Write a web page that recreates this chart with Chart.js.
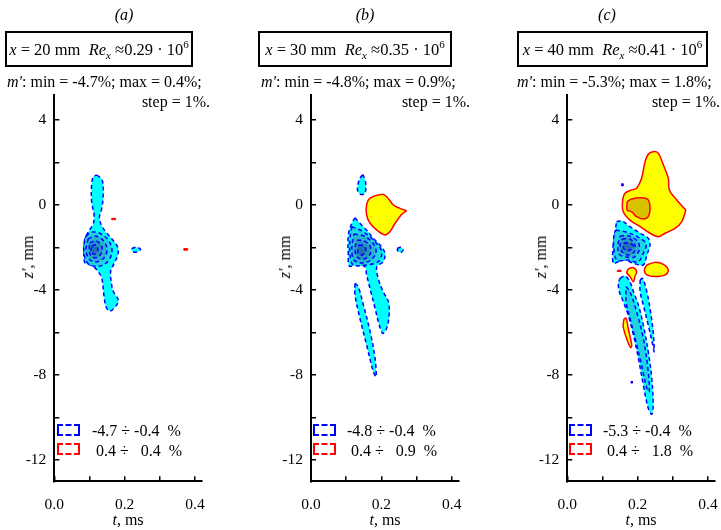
<!DOCTYPE html>
<html>
<head>
<meta charset="utf-8">
<script src="https://cdn.jsdelivr.net/npm/chart.js@4.4.1/dist/chart.umd.min.js"></script>
<style>
  body { margin: 0; width: 721px; height: 530px; background: #fff; position: relative; overflow: hidden;
         font-family: "Liberation Serif", "Times New Roman", serif; color: #000; }
  canvas { position: absolute; top: 0; }
  .txt { position: absolute; white-space: pre; line-height: 1; font-size: 16px; }
  .c { transform: translate(-50%, -50%); }
  .box { position: absolute; border: 2px solid #000; box-sizing: border-box; height: 36px; top: 31px;
         text-align: center; font-size: 16.5px; white-space: pre; line-height: 34px; }
  sub { font-size: 11px; vertical-align: -4px; line-height: 0; }
  sup { font-size: 11px; vertical-align: 7px; line-height: 0; }
  .lg { position: absolute; width: 23px; height: 12px; box-sizing: border-box; border: 2px dashed; }
  .rot { transform: translate(-50%, -50%) rotate(-90deg); }
</style>
</head>
<body>
<canvas id="pa" width="240" height="530" style="left:0px"></canvas>
<canvas id="pb" width="240" height="530" style="left:250px"></canvas>
<canvas id="pc" width="260" height="530" style="left:490px"></canvas>

<div class="txt c" style="left:124px;top:15px"><i>(a)</i></div>
<div class="txt c" style="left:365px;top:15px"><i>(b)</i></div>
<div class="txt c" style="left:607px;top:15px"><i>(c)</i></div>

<div class="box" style="left:5px;width:188px"><span><i>x</i> = 20 mm  <i>Re<sub>x</sub></i> ≈0.29 · 10<sup>6</sup></span></div>
<div class="box" style="left:258px;width:194px"><span><i>x</i> = 30 mm  <i>Re<sub>x</sub></i> ≈0.35 · 10<sup>6</sup></span></div>
<div class="box" style="left:517px;width:191px"><span><i>x</i> = 40 mm  <i>Re<sub>x</sub></i> ≈0.41 · 10<sup>6</sup></span></div>

<div class="txt" style="left:7px;top:74px"><i>m'</i>: min = -4.7%; max = 0.4%;</div>
<div class="txt" style="left:261px;top:74px"><i>m'</i>: min = -4.8%; max = 0.9%;</div>
<div class="txt" style="left:517px;top:74px"><i>m'</i>: min = -5.3%; max = 1.8%;</div>

<div class="txt" style="right:511px;top:94px">step = 1%.</div>
<div class="txt" style="right:251px;top:94px">step = 1%.</div>
<div class="txt" style="right:1px;top:94px">step = 1%.</div>

<div class="lg" style="left:57px;top:424px;border-color:#00f"></div>
<div class="lg" style="left:57px;top:443px;border-color:#f00"></div>
<div class="txt" style="left:92px;top:423px">-4.7 ÷ -0.4  %</div>
<div class="txt" style="left:96px;top:443px">0.4 ÷   0.4  %</div>

<div class="lg" style="left:313px;top:424px;border-color:#00f"></div>
<div class="lg" style="left:313px;top:443px;border-color:#f00"></div>
<div class="txt" style="left:347px;top:423px">-4.8 ÷ -0.4  %</div>
<div class="txt" style="left:351px;top:443px">0.4 ÷   0.9  %</div>

<div class="lg" style="left:569px;top:424px;border-color:#00f"></div>
<div class="lg" style="left:569px;top:443px;border-color:#f00"></div>
<div class="txt" style="left:603px;top:423px">-5.3 ÷ -0.4  %</div>
<div class="txt" style="left:607px;top:443px">0.4 ÷   1.8  %</div>

<div class="txt rot" style="left:28px;top:257px"><i>z′</i>, mm</div>
<div class="txt rot" style="left:285px;top:257px"><i>z′</i>, mm</div>
<div class="txt rot" style="left:541px;top:257px"><i>z′</i>, mm</div>

<div class="txt c" style="left:128px;top:520px"><i>t</i>, ms</div>
<div class="txt c" style="left:385px;top:520px"><i>t</i>, ms</div>
<div class="txt c" style="left:641px;top:520px"><i>t</i>, ms</div>

<script>
// axis ticks
const tTicks = [0, 0.1, 0.2, 0.3, 0.4];
const zTicks = [-12, -10, -8, -6, -4, -2, 0, 2, 4];

// contour regions, [t (ms), z' (mm)]
// (a) x = 20 mm
const aOuter = [[0.121,1.41],[0.136,1.18],[0.139,0.47],[0.135,-0.16],[0.128,-0.63],[0.139,-1.10],[0.158,-1.49],[0.177,-1.88],[0.182,-2.20],[0.177,-2.51],[0.168,-2.82],[0.160,-3.14],[0.163,-3.76],[0.168,-4.08],[0.182,-4.47],[0.177,-4.71],[0.158,-4.99],[0.147,-4.79],[0.141,-4.24],[0.135,-3.45],[0.125,-3.14],[0.111,-2.90],[0.097,-2.79],[0.087,-2.74],[0.084,-2.20],[0.087,-1.57],[0.097,-1.26],[0.111,-0.86],[0.113,-0.47],[0.106,0.16],[0.106,0.94],[0.111,1.33]];
const aL2 = [[0.090,-1.46],[0.107,-1.27],[0.133,-1.36],[0.155,-1.69],[0.164,-2.16],[0.153,-2.64],[0.130,-2.87],[0.101,-2.82],[0.087,-2.49],[0.084,-1.93]];
const aL3 = [[0.096,-1.60],[0.116,-1.46],[0.138,-1.65],[0.150,-2.07],[0.141,-2.49],[0.118,-2.68],[0.099,-2.54],[0.090,-2.12]];
const aL4 = [[0.101,-1.79],[0.118,-1.69],[0.133,-1.88],[0.136,-2.16],[0.124,-2.45],[0.107,-2.45],[0.099,-2.16]];
const aL5 = [[0.107,-1.93],[0.118,-1.88],[0.124,-2.12],[0.116,-2.31],[0.104,-2.21]];
const aSpot = [[0.220,-2.05],[0.233,-1.99],[0.245,-2.08],[0.234,-2.22],[0.222,-2.18]];
const aRed1 = [[0.163,-0.63],[0.174,-0.63],[0.174,-0.69],[0.163,-0.69]];
const aRed2 = [[0.368,-2.05],[0.379,-2.05],[0.380,-2.12],[0.368,-2.13]];

// (b) x = 30 mm
const bTop = [[0.147,1.44],[0.153,1.20],[0.156,0.94],[0.153,0.55],[0.141,0.50],[0.132,0.71],[0.137,1.18]];
const bMain = [[0.125,-0.60],[0.139,-0.86],[0.158,-1.18],[0.177,-1.57],[0.196,-1.88],[0.210,-2.27],[0.205,-2.67],[0.187,-2.90],[0.191,-3.45],[0.205,-4.08],[0.220,-4.55],[0.222,-5.18],[0.215,-5.80],[0.204,-6.04],[0.194,-5.65],[0.182,-4.86],[0.170,-4.08],[0.158,-3.29],[0.153,-2.90],[0.130,-2.82],[0.109,-2.87],[0.106,-2.35],[0.106,-1.41],[0.116,-0.86]];
const bL2 = [[0.116,-1.02],[0.149,-1.26],[0.182,-1.73],[0.201,-2.20],[0.191,-2.67],[0.158,-2.82],[0.120,-2.82],[0.111,-2.35],[0.111,-1.57]];
const bL3 = [[0.122,-1.36],[0.151,-1.46],[0.176,-1.79],[0.185,-2.21],[0.170,-2.59],[0.145,-2.73],[0.122,-2.59],[0.116,-2.02]];
const bL4 = [[0.131,-1.65],[0.151,-1.69],[0.168,-1.93],[0.168,-2.31],[0.151,-2.54],[0.131,-2.45],[0.125,-2.07]];
const bL5 = [[0.136,-1.88],[0.151,-1.93],[0.156,-2.16],[0.145,-2.35],[0.133,-2.26]];
const bTail = [[0.125,-3.68],[0.134,-3.84],[0.149,-4.71],[0.168,-5.96],[0.182,-7.21],[0.185,-8.08],[0.177,-7.84],[0.158,-6.59],[0.139,-5.33],[0.125,-4.24]];
const bSpot = [[0.245,-2.05],[0.254,-1.99],[0.262,-2.10],[0.255,-2.23],[0.247,-2.18]];
const bPos = [[0.272,-0.27],[0.258,-0.44],[0.239,-0.86],[0.224,-1.26],[0.210,-1.41],[0.187,-1.18],[0.168,-0.86],[0.158,-0.47],[0.158,0],[0.168,0.32],[0.201,0.50],[0.215,0.39],[0.234,0],[0.253,-0.16]];

// (c) x = 40 mm
const cVort = [[0.140,-0.79],[0.155,-0.75],[0.178,-1.02],[0.207,-1.33],[0.230,-1.57],[0.235,-1.88],[0.226,-2.35],[0.216,-2.82],[0.188,-2.74],[0.164,-2.59],[0.145,-2.67],[0.131,-2.74],[0.129,-2.20],[0.133,-1.57]];
const cL2 = [[0.138,-1.18],[0.167,-1.27],[0.201,-1.51],[0.224,-1.84],[0.215,-2.31],[0.201,-2.68],[0.172,-2.59],[0.141,-2.59],[0.132,-2.02],[0.132,-1.51]];
const cL3 = [[0.150,-1.46],[0.175,-1.46],[0.201,-1.74],[0.204,-2.12],[0.190,-2.45],[0.167,-2.45],[0.147,-2.31],[0.144,-1.88]];
const cL4 = [[0.156,-1.60],[0.178,-1.60],[0.192,-1.88],[0.190,-2.21],[0.172,-2.35],[0.156,-2.21],[0.150,-1.88]];
const cL5 = [[0.161,-1.79],[0.178,-1.79],[0.187,-1.93],[0.178,-2.12],[0.164,-2.12],[0.158,-1.93]];
const cTail = [[0.150,-3.45],[0.164,-3.34],[0.178,-3.61],[0.188,-4.08],[0.202,-4.71],[0.216,-5.65],[0.230,-6.90],[0.240,-8.16],[0.244,-9.41],[0.240,-9.85],[0.230,-9.57],[0.216,-8.47],[0.202,-7.21],[0.188,-6.12],[0.173,-5.18],[0.159,-4.55],[0.148,-4.08],[0.145,-3.68]];
const cTailIn = [[0.167,-3.84],[0.178,-4.08],[0.197,-5.02],[0.216,-6.27],[0.230,-7.84],[0.233,-8.79],[0.226,-8.63],[0.211,-7.53],[0.195,-6.43],[0.178,-5.33],[0.167,-4.55]];
const cSliver = [[0.207,-3.53],[0.214,-3.45],[0.226,-4.08],[0.235,-4.86],[0.244,-5.96],[0.247,-6.90],[0.243,-6.59],[0.230,-5.65],[0.216,-4.71],[0.207,-4.08]];
const cPos = [[0.337,-0.24],[0.325,-0.79],[0.306,-1.10],[0.278,-1.33],[0.259,-1.49],[0.235,-1.33],[0.207,-1.02],[0.178,-0.71],[0.159,-0.32],[0.157,0.16],[0.164,0.55],[0.183,0.71],[0.197,0.79],[0.211,1.26],[0.221,2.04],[0.230,2.39],[0.244,2.51],[0.259,2.43],[0.273,1.88],[0.287,1.26],[0.290,0.71],[0.311,0.24]];
const cPosIn = [[0.170,0.16],[0.183,0.28],[0.211,0.34],[0.230,0.24],[0.235,-0.16],[0.230,-0.55],[0.216,-0.66],[0.197,-0.55],[0.183,-0.32],[0.170,-0.24]];
const cPos2 = [[0.173,-3.01],[0.188,-2.95],[0.197,-3.14],[0.192,-3.37],[0.188,-3.61],[0.178,-3.37],[0.169,-3.19]];
const cPos3 = [[0.226,-2.82],[0.249,-2.70],[0.273,-2.79],[0.287,-3.06],[0.278,-3.29],[0.249,-3.37],[0.226,-3.29],[0.219,-3.06]];
const cPos4 = [[0.161,-5.36],[0.167,-5.33],[0.173,-5.80],[0.183,-6.59],[0.180,-6.71],[0.170,-6.35],[0.159,-5.73]];
const cRed = [[0.142,-3.07],[0.152,-3.07],[0.152,-3.13],[0.142,-3.13]];
const cBlue1 = [[0.155,0.90],[0.159,0.90],[0.159,1.00],[0.155,1.00]];
const cBlue2 = [[0.181,-8.30],[0.185,-8.30],[0.185,-8.38],[0.181,-8.38]];

const levelStyle = {
    n1: { fill: '#00ffff', line: '#0000ff', dash: [4, 3] },
    n2: { fill: '#1fd4e2', line: '#0000ff', dash: [4, 3] },
    n3: { fill: '#27b3d3', line: '#0000ff', dash: [4, 3] },
    n4: { fill: '#2693c4', line: '#0000ff', dash: [4, 3] },
    n5: { fill: '#1e70b3', line: '#0000ff', dash: [4, 3] },
    p1: { fill: '#ffff00', line: '#ff0000', dash: [] },
    p2: { fill: '#d8c200', line: '#ff0000', dash: [] },
    dotR: { fill: '#ff0000', line: '#ff0000', dash: [] },
    dotB: { fill: '#0000ff', line: '#0000ff', dash: [] },
};

const TOP = 94.5;
const BOTTOM = 481.25;
const serif = 'Liberation Serif';

function toDataset(kind, pts, order) {
    const s = levelStyle[kind];
    const closed = pts.concat([pts[0]]).map(([x, y]) => ({ x, y }));
    const small = kind.startsWith('dot');
    return {
        data: closed,
        showLine: true,
        fill: 'shape',
        backgroundColor: s.fill,
        borderColor: s.line,
        borderDash: s.dash,
        borderWidth: small ? 1 : 1.5,
        tension: small ? 0 : 0.35,
        pointRadius: 0,
        order,
    };
}

function makePanel(id, shapes, axisW, padRight) {
    new Chart(document.getElementById(id), {
        type: 'scatter',
        data: {
            datasets: shapes.map(([kind, pts], i) => toDataset(kind, pts, shapes.length - i)),
        },
        options: {
            responsive: false,
            animation: false,
            layout: { padding: { top: TOP, right: padRight, left: 0, bottom: 0 } },
            plugins: { legend: { display: false }, tooltip: { enabled: false } },
            scales: {
                x: {
                    type: 'linear',
                    min: 0,
                    max: 0.42,
                    afterFit: (s) => { s.height = 530 - BOTTOM; },
                    afterBuildTicks: (s) => { s.ticks = tTicks.map((v) => ({ value: v })); },
                    grid: { drawOnChartArea: false, tickLength: -5, color: '#000', lineWidth: 1.5 },
                    border: { color: '#000', width: 2 },
                    ticks: {
                        autoSkip: false,
                        maxRotation: 0,
                        padding: 19,
                        color: '#000',
                        font: { family: serif, size: 15.5 },
                        callback: (v) => (Math.round(v * 10) % 2 === 0 ? Number(v).toFixed(1) : ''),
                    },
                },
                y: {
                    type: 'linear',
                    min: -13,
                    max: 5.2,
                    afterFit: (s) => { s.width = axisW; },
                    afterBuildTicks: (s) => { s.ticks = zTicks.map((v) => ({ value: v })); },
                    grid: { drawOnChartArea: false, tickLength: -5, color: '#000', lineWidth: 1.5 },
                    border: { color: '#000', width: 2 },
                    ticks: {
                        autoSkip: false,
                        padding: 13,
                        color: '#000',
                        font: { family: serif, size: 15.5 },
                        callback: (v) => (v % 4 === 0 ? String(v) : ''),
                    },
                },
            },
        },
    });
}

makePanel('pa', [
    ['n1', aOuter], ['n1', aSpot], ['n2', aL2], ['n3', aL3], ['n4', aL4], ['n5', aL5],
    ['dotR', aRed1], ['dotR', aRed2],
], 54.3, 37.9);

makePanel('pb', [
    ['n1', bTop], ['n1', bMain], ['n1', bTail], ['n1', bSpot],
    ['n2', bL2], ['n3', bL3], ['n4', bL4], ['n5', bL5],
    ['p1', bPos],
], 61, 31.2);

makePanel('pc', [
    ['n1', cVort], ['n1', cTail], ['n1', cSliver],
    ['n2', cL2], ['n3', cL3], ['n4', cL4], ['n5', cL5], ['n2', cTailIn],
    ['p1', cPos], ['p2', cPosIn], ['p1', cPos2], ['p1', cPos3], ['p1', cPos4],
    ['dotR', cRed], ['dotB', cBlue1], ['dotB', cBlue2],
], 77.3, 34.9);
</script>
</body>
</html>
